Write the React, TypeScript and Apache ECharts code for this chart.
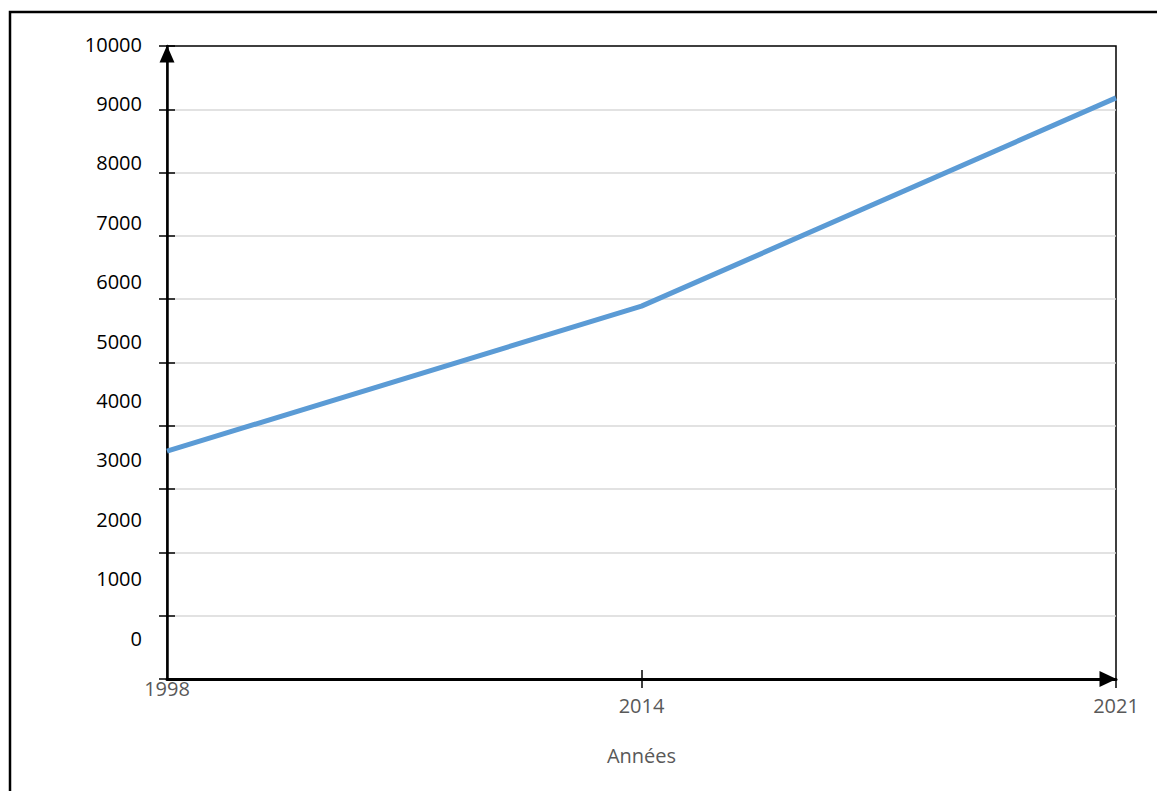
import React, { useEffect, useRef } from "react";
import * as echarts from "echarts";

const years = ["1998", "2014", "2021"];
const values = [3600, 5890, 9180];
const yMin = 0;
const yMax = 10000;
const yStep = 1000;
const xTitle = "Années";

const FONT = "'Open Sans', 'Noto Sans', sans-serif";

export default function App() {
  const ref = useRef<HTMLDivElement>(null);
  useEffect(() => {
    document.body.style.margin = "0";
    const chart = echarts.init(ref.current!, null, { renderer: "svg" });
    const grid0 = { left: 167, right: 41, top: 46, bottom: 112 };
    chart.setOption({
      animation: false,
      backgroundColor: "#ffffff",
      grid: [
        { ...grid0, show: true, borderColor: "#000", borderWidth: 1.5, backgroundColor: "transparent" },
        { left: 150, right: 900, top: 44, bottom: 153 },
      ],
      xAxis: [
        {
          type: "category",
          gridIndex: 0,
          data: years,
          boundaryGap: false,
          axisLine: {
            lineStyle: { color: "#000", width: 3 },
            symbol: ["none", "triangle"],
            symbolSize: [16, 17],
            symbolOffset: [0, -8],
          },
          axisTick: { show: true, length: 9, lineStyle: { color: "#000", width: 1.5 } },
          axisLabel: {
            margin: 16,
            color: "#595959",
            fontSize: 20,
            fontFamily: FONT,
            interval: (i: number) => i !== 0,
          },
          splitLine: { show: false },
          name: xTitle,
          nameLocation: "middle",
          nameGap: 66,
          nameTextStyle: { color: "#595959", fontSize: 20, fontFamily: FONT },
        },
        {
          type: "category",
          gridIndex: 0,
          position: "bottom",
          data: years,
          boundaryGap: false,
          axisLine: { show: false },
          axisTick: { show: true, inside: true, length: 9, interval: (i: number) => i === 1, lineStyle: { color: "#000", width: 1.5 } },
          axisLabel: {
            margin: -1,
            color: "#595959",
            fontSize: 20,
            fontFamily: FONT,
            interval: (i: number) => i === 0,
          },
          splitLine: { show: false },
        },
        { type: "value", gridIndex: 1, show: false },
      ],
      yAxis: [
        {
          type: "value",
          gridIndex: 0,
          min: yMin,
          max: yMax,
          interval: yStep,
          axisLine: {
            show: true,
            lineStyle: { color: "#000", width: 2.5 },
            symbol: ["none", "triangle"],
            symbolSize: [15, 17],
            symbolOffset: [0, -8],
          },
          axisTick: { show: true, length: 8, lineStyle: { color: "#000", width: 1.5 } },
          axisLabel: { show: false },
          splitLine: {
            show: true,
            showMinLine: false,
            showMaxLine: false,
            lineStyle: { color: "#D9D9D9", width: 1.5 },
          },
        },
        {
          type: "value",
          gridIndex: 0,
          position: "left",
          min: yMin,
          max: yMax,
          interval: yStep,
          axisLine: { show: false },
          axisTick: { show: true, inside: true, length: 8, lineStyle: { color: "#000", width: 1.5 } },
          axisLabel: { show: false },
          splitLine: { show: false },
        },
        {
          type: "value",
          gridIndex: 1,
          min: yMin,
          max: yMax,
          interval: yStep,
          axisLine: { show: false },
          axisTick: { show: false },
          splitLine: { show: false },
          axisLabel: {
            margin: 8,
            color: "#000",
            fontSize: 20,
            fontFamily: FONT,
            formatter: (v: number) => String(v),
          },
        },
      ],
      series: [
        {
          type: "line",
          xAxisIndex: 0,
          yAxisIndex: 0,
          data: values,
          showSymbol: false,
          symbol: "none",
          lineStyle: { color: "#5B9BD5", width: 5 },
          z: 5,
        },
      ],
      graphic: [
        {
          type: "rect",
          shape: { x: 10, y: 12, width: 1200, height: 900 },
          style: { fill: "none", stroke: "#000", lineWidth: 2.5 },
          silent: true,
        },
      ],
    });
    return () => chart.dispose();
  }, []);
  return <div ref={ref} style={{ width: 1157, height: 791 }} />;
}
